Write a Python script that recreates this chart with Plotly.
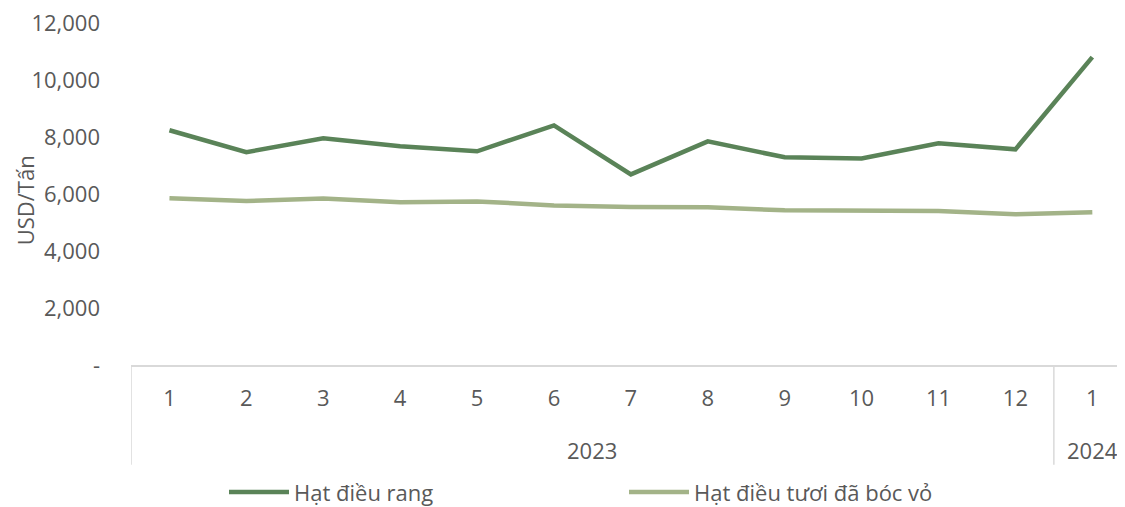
import plotly.graph_objects as go

years = ["2023"] * 12 + ["2024"]
months = ["1", "2", "3", "4", "5", "6", "7", "8", "9", "10", "11", "12", "1"]
rang = [8250, 7480, 7970, 7690, 7510, 8420, 6700, 7860, 7300, 7260, 7790, 7580, 10820]
tuoi = [5860, 5760, 5850, 5720, 5750, 5610, 5550, 5540, 5440, 5430, 5410, 5300, 5370]
series_names = ["Hạt điều rang", "Hạt điều tươi đã bóc vỏ"]
ytick_vals = [0, 2000, 4000, 6000, 8000, 10000, 12000]
ytick_text = ["-", "2,000", "4,000", "6,000", "8,000", "10,000", "12,000"]
y_title = "USD/Tấn"

FONT = "Open Sans"
GREY = "#595959"
LINEGREY = "#d9d9d9"
FS = 22

idx = list(range(len(months)))

fig = go.Figure()
fig.add_trace(go.Scatter(x=idx, y=rang, mode="lines", name=series_names[0],
                         line=dict(color="#5a8358", width=4.5)))
fig.add_trace(go.Scatter(x=idx, y=tuoi, mode="lines", name=series_names[1],
                         line=dict(color="#a3b388", width=4.5)))

# year group labels and dividers
groups = {}
for i, yv in enumerate(years):
    groups.setdefault(yv, []).append(i)
for yv, ids in groups.items():
    center = (ids[0] + ids[-1]) / 2
    fig.add_annotation(x=center, y=-0.2485, xref="x", yref="paper", text=yv,
                       showarrow=False, font=dict(family=FONT, size=FS, color=GREY),
                       xanchor="center", yanchor="middle")
    fig.add_shape(type="line", xref="x", yref="paper", x0=ids[0] - 0.5, x1=ids[0] - 0.5,
                  y0=0, y1=-0.292, line=dict(color=LINEGREY, width=1.5))
fig.add_shape(type="line", xref="x", yref="paper", x0=len(months) - 0.5, x1=len(months) - 0.5,
              y0=0, y1=-0.292, line=dict(color=LINEGREY, width=1.5))

# y-axis title
fig.add_annotation(x=-0.106, y=0.482, xref="paper", yref="paper", text=y_title,
                   textangle=-90, showarrow=False, xanchor="center", yanchor="middle",
                   font=dict(family=FONT, size=FS, color=GREY))

# page body has an 8px margin: compensate so the plot lands where the reference has it
fig.update_layout(
    width=1125, height=507,
    margin=dict(l=123, r=3, t=15, b=150, autoexpand=False),
    paper_bgcolor="white", plot_bgcolor="white",
    font=dict(family=FONT, size=FS, color=GREY),
    showlegend=True,
    legend=dict(orientation="h", xref="container", yref="container",
                x=0.192, y=0.045, xanchor="left", yanchor="middle",
                itemwidth=60,
                entrywidth=325, entrywidthmode="pixels",
                font=dict(family=FONT, size=FS, color=GREY)),
)
fig.update_yaxes(range=[0, 12020], tickvals=ytick_vals, ticktext=ytick_text,
                 showgrid=False, zeroline=False, showline=False, ticks="",
                 ticklabelstandoff=30, ticklabeloverflow="allow", automargin=False)
fig.update_xaxes(range=[-0.5, 12.49], tickvals=idx, ticktext=months, showgrid=False,
                 zeroline=False, showline=True, linecolor=LINEGREY, linewidth=1.5,
                 ticks="", ticklabelstandoff=13, ticklabeloverflow="allow", automargin=False,
                 tickfont=dict(family=FONT, size=FS, color=GREY))

fig.write_html("out.html")
